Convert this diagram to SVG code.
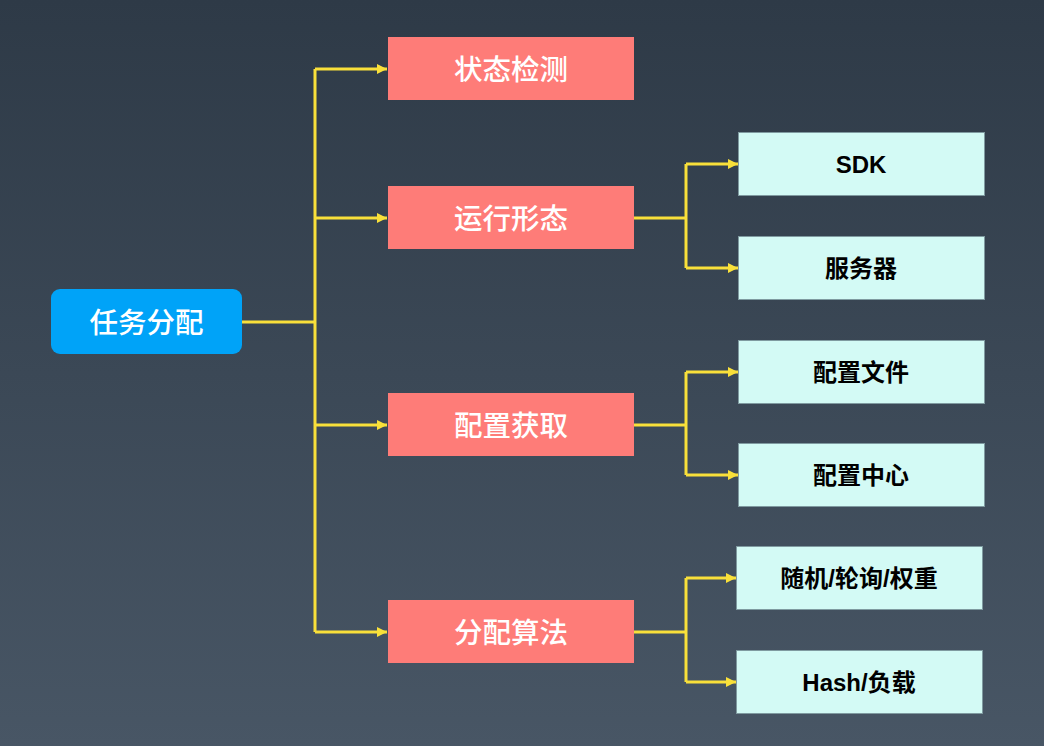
<svg xmlns="http://www.w3.org/2000/svg" width="1044" height="746" viewBox="0 0 1044 746">
<defs>
<linearGradient id="bg" x1="0" y1="0" x2="0" y2="1">
<stop offset="0" stop-color="#2e3a47"/>
<stop offset="1" stop-color="#485665"/>
</linearGradient>
<marker id="ah" viewBox="0 0 10 10" refX="10" refY="5" markerWidth="10" markerHeight="10" markerUnits="userSpaceOnUse" orient="auto">
<path d="M0,0 L10,5 L0,10 Z" fill="#f9e03a"/>
</marker>
<style>
.c{fill:none;stroke:#f9e03a;stroke-width:3}
.l1 rect{fill:#fe7c78}
.l2 rect{fill:#d3faf5;stroke:#7f9aa0;stroke-width:1}
.w{fill:#ffffff;font-family:"Noto Sans CJK SC","Liberation Sans",sans-serif;font-size:28.5px;font-weight:500;text-anchor:middle;dominant-baseline:central}
.b{fill:#000000;font-family:"Liberation Sans","Noto Sans CJK SC",sans-serif;font-size:24px;font-weight:600;text-anchor:middle;dominant-baseline:central}
</style>
</defs>
<rect width="1044" height="746" fill="url(#bg)"/>
<g id="connectors">
<path class="c" d="M242,322 H315"/>
<path class="c" d="M315,69 V632"/>
<path class="c" d="M315,69 H387" marker-end="url(#ah)"/>
<path class="c" d="M315,218 H387" marker-end="url(#ah)"/>
<path class="c" d="M315,425 H387" marker-end="url(#ah)"/>
<path class="c" d="M315,632 H387" marker-end="url(#ah)"/>
<path class="c" d="M634,218 H686"/>
<path class="c" d="M686,164 V268"/>
<path class="c" d="M686,164 H738" marker-end="url(#ah)"/>
<path class="c" d="M686,268 H738" marker-end="url(#ah)"/>
<path class="c" d="M634,425 H686"/>
<path class="c" d="M686,372 V475"/>
<path class="c" d="M686,372 H738" marker-end="url(#ah)"/>
<path class="c" d="M686,475 H738" marker-end="url(#ah)"/>
<path class="c" d="M634,632 H686"/>
<path class="c" d="M686,578 V682"/>
<path class="c" d="M686,578 H736" marker-end="url(#ah)"/>
<path class="c" d="M686,682 H736" marker-end="url(#ah)"/>
</g>
<g id="root">
<rect x="51" y="289" width="191" height="65" rx="9" fill="#00a3f8"/>
<text class="w" x="146.5" y="320">任务分配</text>
</g>
<g id="n1" class="l1"><rect x="388" y="37" width="246" height="63"/><text class="w" x="511" y="67">状态检测</text></g>
<g id="n2" class="l1"><rect x="388" y="186" width="246" height="63"/><text class="w" x="511" y="216">运行形态</text></g>
<g id="n3" class="l1"><rect x="388" y="393" width="246" height="63"/><text class="w" x="511" y="423">配置获取</text></g>
<g id="n4" class="l1"><rect x="388" y="600" width="246" height="63"/><text class="w" x="511" y="630">分配算法</text></g>
<g id="n5" class="l2"><rect x="738.5" y="132.5" width="246" height="63"/><text class="b" x="861" y="164">SDK</text></g>
<g id="n6" class="l2"><rect x="738.5" y="236.5" width="246" height="63"/><text class="b" x="861" y="268">服务器</text></g>
<g id="n7" class="l2"><rect x="738.5" y="340.5" width="246" height="63"/><text class="b" x="861" y="372">配置文件</text></g>
<g id="n8" class="l2"><rect x="738.5" y="443.5" width="246" height="63"/><text class="b" x="861" y="475">配置中心</text></g>
<g id="n9" class="l2"><rect x="736.5" y="546.5" width="246" height="63"/><text class="b" x="859" y="578">随机/轮询/权重</text></g>
<g id="n10" class="l2"><rect x="736.5" y="650.5" width="246" height="63"/><text class="b" x="859" y="682">Hash/负载</text></g>
</svg>
